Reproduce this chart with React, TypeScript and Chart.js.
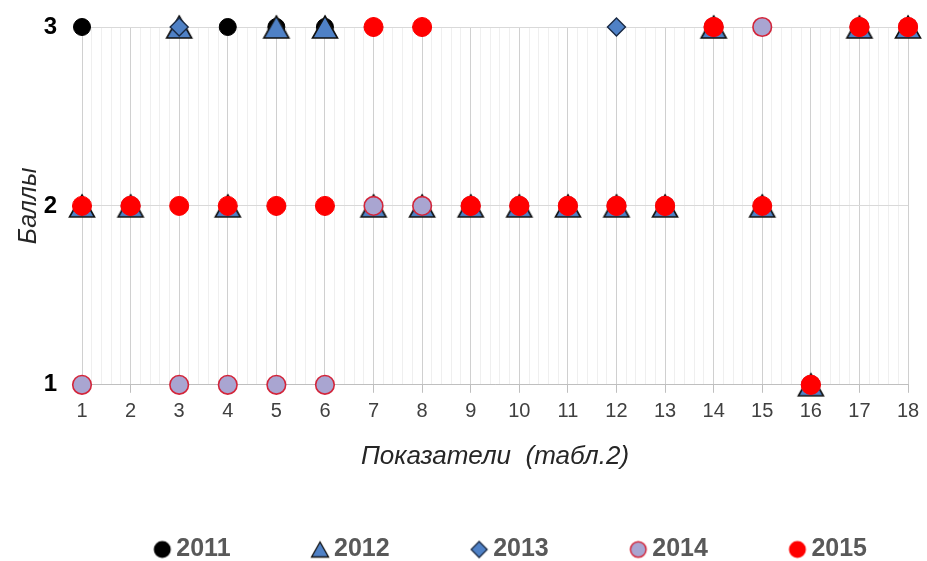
import React, { useEffect, useRef } from 'react';
import { Chart, registerables } from 'chart.js';

Chart.register(...registerables);

// ---- data ----
const indicators = [1, 2, 3, 4, 5, 6, 7, 8, 9, 10, 11, 12, 13, 14, 15, 16, 17, 18];
const scores2011 = [3, 2, 2, 3, 3, 3, 2, 2, 2, 2, 2, 2, 2, 3, 2, 1, 3, 3];
const scores2012 = [2, 2, 3, 2, 3, 3, 2, 2, 2, 2, 2, 2, 2, 3, 2, 1, 3, 3];
const scores2013 = [2, 2, 3, 2, 2, 2, 3, 3, 2, 2, 2, 3, 2, 3, 2, 1, 3, 3];
const scores2014 = [1, 2, 1, 1, 1, 1, 2, 2, 2, 2, 2, 2, 2, 3, 3, 1, 3, 3];
const scores2015 = [2, 2, 2, 2, 2, 2, 3, 3, 2, 2, 2, 2, 2, 3, 2, 1, 3, 3];
const yearLabels = ['2011', '2012', '2013', '2014', '2015'];
const yTickValues = [1, 2, 3];
const xTitle = 'Показатели  (табл.2)';
const yTitle = 'Баллы';

const FONT = "'Liberation Sans', Arial, sans-serif";
const BLUE = '#4f81c6';
const PURPLE = '#a9a5d1';
const PURPLE_BORDER = '#d3253a';
const RED = '#ff0000';

function makeCanvas(w: number, h: number, draw: (ctx: CanvasRenderingContext2D) => void) {
  const c = document.createElement('canvas');
  c.width = w;
  c.height = h;
  const ctx = c.getContext('2d')!;
  draw(ctx);
  return c;
}

function drawTriangle(ctx: CanvasRenderingContext2D, cx: number, cy: number, w: number, h: number, lw: number) {
  ctx.beginPath();
  ctx.moveTo(cx, cy - h / 2);
  ctx.lineTo(cx + w / 2, cy + h / 2);
  ctx.lineTo(cx - w / 2, cy + h / 2);
  ctx.closePath();
  ctx.fillStyle = BLUE;
  ctx.fill();
  ctx.lineWidth = lw;
  ctx.strokeStyle = '#111';
  ctx.lineJoin = 'miter';
  ctx.stroke();
}

function circle(ctx: CanvasRenderingContext2D, cx: number, cy: number, r: number, fill: string, stroke: string, lw: number) {
  ctx.beginPath();
  ctx.arc(cx, cy, r, 0, Math.PI * 2);
  ctx.fillStyle = fill;
  ctx.fill();
  if (lw > 0) {
    ctx.lineWidth = lw;
    ctx.strokeStyle = stroke;
    ctx.stroke();
  }
}

const LEG_FONT = 25;
const LEG_BW = 50;
const LEG_PAD = 41;
const LEG_GAP = 14; // marker center -> text start
const LEG_OFF = LEG_BW / 2 + LEG_FONT / 2 - LEG_GAP;
const LEG_W = Math.round(2 * (LEG_OFF + 12));
const LEG_H = 24;

function legendMarker(kind: number) {
  return makeCanvas(LEG_W, LEG_H, (ctx) => {
    const cx = LEG_W / 2 + LEG_OFF;
    const cy = LEG_H / 2;
    if (kind === 0) circle(ctx, cx, cy, 8.5, '#000', '#000', 0);
    if (kind === 1) drawTriangle(ctx, cx, cy, 17, 15, 1.3);
    if (kind === 2) {
      ctx.beginPath();
      ctx.moveTo(cx, cy - 8);
      ctx.lineTo(cx + 8, cy);
      ctx.lineTo(cx, cy + 8);
      ctx.lineTo(cx - 8, cy);
      ctx.closePath();
      ctx.fillStyle = BLUE;
      ctx.fill();
      ctx.lineWidth = 1.3;
      ctx.strokeStyle = '#1a2a44';
      ctx.stroke();
    }
    if (kind === 3) circle(ctx, cx, cy, 7.8, PURPLE, PURPLE_BORDER, 1.5);
    if (kind === 4) circle(ctx, cx, cy, 8.5, RED, RED, 0);
  });
}

const isMajor = (v: number) => Math.abs(v - Math.round(v)) < 1e-6;

export default function App() {
  const ref = useRef<HTMLCanvasElement | null>(null);

  useEffect(() => {
    document.body.style.margin = '0';
    const triangle = makeCanvas(30, 28, (ctx) => drawTriangle(ctx, 15, 14, 25, 22, 1.6));
    const legendMarkers = [0, 1, 2, 3, 4].map(legendMarker);
    const toPts = (arr: number[]) => indicators.map((x, i) => ({ x, y: arr[i] }));

    const chart = new Chart(ref.current!, {
      type: 'scatter',
      data: {
        datasets: [
          {
            label: yearLabels[0], data: toPts(scores2011), order: 5, clip: false,
            pointStyle: 'circle', pointRadius: 8.5, pointHoverRadius: 8.5,
            backgroundColor: '#000', borderColor: '#000', borderWidth: 1,
          },
          {
            label: yearLabels[1], data: toPts(scores2012), order: 4, clip: false,
            pointStyle: triangle as any, pointRadius: 12, pointHoverRadius: 12,
            backgroundColor: BLUE, borderColor: '#111', borderWidth: 1,
          },
          {
            label: yearLabels[2], data: toPts(scores2013), order: 3, clip: false,
            pointStyle: 'rectRot', pointRadius: 9, pointHoverRadius: 9,
            backgroundColor: BLUE, borderColor: '#1a2a44', borderWidth: 1.4,
          },
          {
            label: yearLabels[3], data: toPts(scores2014), order: 2, clip: false,
            pointStyle: 'circle', pointRadius: 9.3, pointHoverRadius: 9.3,
            backgroundColor: PURPLE, borderColor: PURPLE_BORDER, borderWidth: 1.6,
          },
          {
            label: yearLabels[4], data: toPts(scores2015), order: 1, clip: false,
            pointStyle: 'circle', pointRadius: 9.5, pointHoverRadius: 9.5,
            backgroundColor: RED, borderColor: RED, borderWidth: 1,
          },
        ],
      },
      options: {
        responsive: false,
        animation: false,
        layout: { padding: { left: 14, right: 19, top: 27, bottom: -11 } },
        plugins: {
          tooltip: { enabled: false },
          legend: {
            position: 'bottom',
            align: 'end',
            labels: {
              usePointStyle: true,
              pointStyleWidth: LEG_BW,
              padding: LEG_PAD,
              color: '#595959',
              font: { family: FONT, size: LEG_FONT, weight: 'bold' },
              generateLabels: (ch: any) =>
                ch.data.datasets.map((ds: any, i: number) => ({
                  text: ds.label,
                  pointStyle: legendMarkers[i],
                  fillStyle: 'rgba(0,0,0,0)',
                  strokeStyle: 'rgba(0,0,0,0)',
                  lineWidth: 0,
                  hidden: false,
                  datasetIndex: i,
                  fontColor: '#595959',
                })),
            },
          },
        },
        scales: {
          x: {
            type: 'linear',
            min: indicators[0],
            max: indicators[indicators.length - 1],
            afterBuildTicks: (scale: any) => {
              const t = [];
              const n = (indicators[indicators.length - 1] - indicators[0]) * 5;
              for (let i = 0; i <= n; i++) t.push({ value: indicators[0] + i / 5 });
              scale.ticks = t;
            },
            ticks: {
              autoSkip: false,
              maxRotation: 0,
              minRotation: 0,
              padding: 7,
              color: '#404040',
              font: { family: FONT, size: 20 },
              callback: (v: any) => (isMajor(Number(v)) ? String(Math.round(Number(v))) : ''),
            },
            grid: {
              color: (c: any) => (c.tick && isMajor(c.tick.value) ? '#d0d0d0' : '#efefef'),
              tickColor: (c: any) => (c.tick && isMajor(c.tick.value) ? '#bfbfbf' : 'rgba(0,0,0,0)'),
              tickLength: 8,
              lineWidth: 1,
            },
            border: { color: '#bfbfbf' },
            title: {
              display: true,
              text: xTitle,
              color: '#262626',
              font: { family: FONT, size: 26, style: 'italic' },
              padding: { top: 10, bottom: 24 },
            },
          },
          y: {
            type: 'linear',
            min: 1,
            max: 3,
            afterBuildTicks: (scale: any) => {
              scale.ticks = yTickValues.map((v) => ({ value: v }));
            },
            afterFit: (scale: any) => {
              scale.width = 68;
              scale.paddingTop = 0;
              scale.paddingBottom = 0;
            },
            ticks: {
              color: '#000',
              padding: 25,
              font: { family: FONT, size: 24, weight: 'bold' },
            },
            grid: { color: '#d9d9d9', drawTicks: false },
            border: { display: false },
            title: {
              display: true,
              text: yTitle,
              color: '#262626',
              font: { family: FONT, size: 25, style: 'italic' },
              padding: { top: 0, bottom: 0 },
            },
          },
        },
      },
    } as any);
    return () => chart.destroy();
  }, []);

  return (
    <div style={{ position: 'absolute', left: 0, top: 0, width: 927, height: 561, background: '#fff' }}>
      <canvas ref={ref} width={927} height={561} style={{ display: 'block' }} />
    </div>
  );
}
